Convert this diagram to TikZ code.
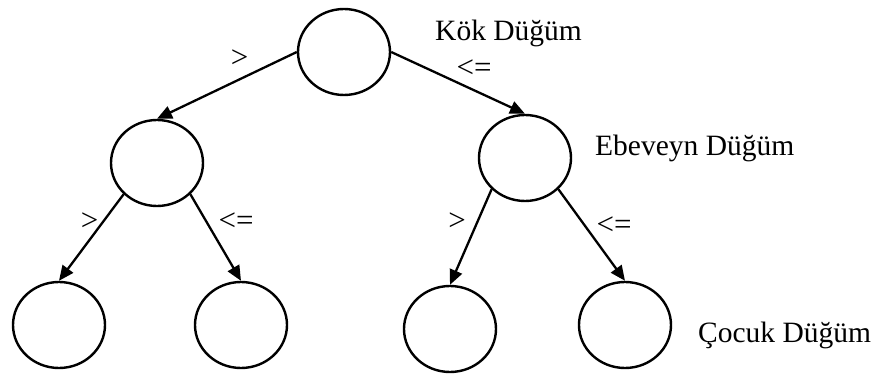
\documentclass[tikz,border=0pt]{standalone}
\usepackage{fontspec}
\setmainfont{Liberation Serif}
\usetikzlibrary{shapes.geometric,arrows.meta}
\tikzset{
  treenode/.style={draw, ellipse, line width=2.4pt, minimum width=92pt, minimum height=86pt, inner sep=0pt},
  edge/.style={line width=2.3pt, -{Triangle[length=15pt,width=13pt]}},
  caption/.style={font=\fontsize{29.5}{33}\selectfont, inner sep=0pt, anchor=base west},
  cmp/.style={font=\fontsize{31}{34}\selectfont, inner sep=0pt}
}
\begin{document}
\begin{tikzpicture}[x=1pt,y=-1pt]
\useasboundingbox (0,0) rectangle (879,374);
\node[treenode] (root) at (344,52) {};
\node[treenode] (lm) at (157,163) {};
\node[treenode] (rm) at (525,158) {};
\node[treenode] (l1) at (59,325) {};
\node[treenode] (l2) at (241,325) {};
\node[treenode] (l3) at (450,329) {};
\node[treenode] (l4) at (625,325) {};

\draw[edge] (root.west) -- (lm.north);
\draw[edge] (root.east) -- (rm.north);
\draw[edge] (lm.south west) -- (l1.north);
\draw[edge] (lm.south east) -- (l2.north);
\draw[edge] (rm.south west) -- (l3.north);
\draw[edge] (rm.south east) -- (l4.north);

\node[caption] (tk) at (435,41) {Kök Düğüm};
\node[caption] (te) at (595,156) {Ebeveyn Düğüm};
\node[caption] (tc) at (698,342) {Çocuk Düğüm};

\node[cmp] (g1) at (239.5,58.5) {>};
\node[cmp] (le1) at (474,69) {<=};
\node[cmp] (g2) at (89.5,222) {>};
\node[cmp] (le2) at (236,222) {<=};
\node[cmp] (g3) at (457,222) {>};
\node[cmp] (le3) at (614,226) {<=};
\end{tikzpicture}
\end{document}
